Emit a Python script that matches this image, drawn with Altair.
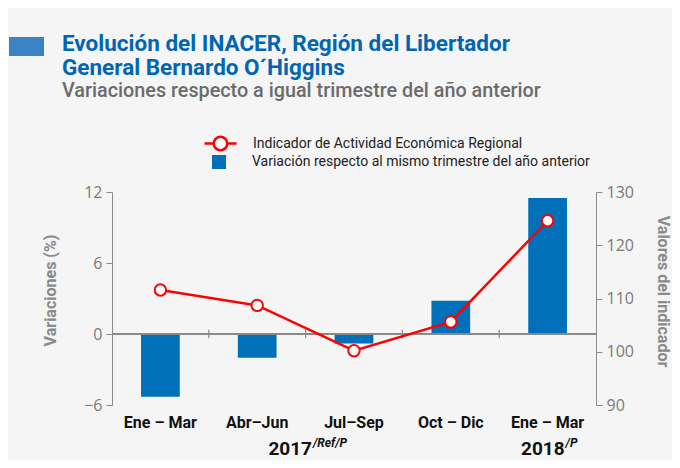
import altair as alt
import pandas as pd

# ---- data ----
keys = ["Ene – Mar|2017", "Abr–Jun|2017", "Jul–Sep|2017", "Oct – Dic|2017", "Ene – Mar|2018"]
variaciones = [-5.3, -2.0, -0.8, 2.8, 11.5]
indicador = [111.6, 108.7, 100.2, 105.6, 124.6]
serie_linea = "Indicador de Actividad Económica Regional"
serie_barra = "Variación respecto al mismo trimestre del año anterior"
years = ["2017", "2018"]
year_sups = ["/Ref/P", "/P"]
year_keys = ["Jul–Sep|2017", "Ene – Mar|2018"]
year_dx = [-42, 17]
title_lines = ["Evolución del INACER, Región del Libertador", "General Bernardo O´Higgins"]
subtitle = "Variaciones respecto a igual trimestre del año anterior"

FONT = "Roboto, 'DejaVu Sans Condensed', sans-serif"
TICKF = "'Open Sans', 'Noto Sans', sans-serif"
BLUE = "#0070bb"
RED = "#ff0000"
GREY = "#8a8a8a"

df = pd.DataFrame({"key": keys, "var": variaciones, "ind": indicador,
                   "sl": [serie_linea] * 5, "sb": [serie_barra] * 5})
bounds = pd.DataFrame({"key": keys[1:]})

W, H = 484, 213

xenc = alt.X("key:N", sort=keys,
             scale=alt.Scale(paddingInner=0, paddingOuter=0),
             axis=alt.Axis(title=None, domain=False, ticks=False,
                           labelExpr="split(datum.label, '|')[0]",
                           labelFont=FONT, labelFontSize=16, labelFontWeight="bold",
                           labelColor="#111111", labelPadding=9, labelAngle=0))

yleft = alt.Y("var:Q", scale=alt.Scale(domain=[-6, 12], nice=False, zero=False),
              axis=alt.Axis(title="Variaciones (%)", values=[-6, 0, 6, 12], grid=False,
                            domainColor=GREY, tickColor=GREY, tickSize=6,
                            labelFont=TICKF, labelFontSize=16, labelColor="#7a7a7a",
                            labelPadding=4, titleFont=FONT, titleFontSize=16,
                            titleFontWeight="bold", titleColor=GREY, titlePadding=25,
                            titleY=98))

bars = alt.Chart(df).mark_bar(width=alt.RelativeBandSize(0.4)).encode(
    x=xenc, y=yleft,
    fill=alt.Fill("sb:N", scale=alt.Scale(domain=[serie_barra], range=[BLUE]),
                  legend=alt.Legend(title=None, orient="none", legendX=100, legendY=-37,
                                    symbolType="square", symbolSize=196, symbolStrokeWidth=0,
                                    labelFont=FONT, labelFontSize=14, labelColor="#222222",
                                    labelOffset=26, padding=0, labelLimit=400)),
)

zero = alt.Chart(df).mark_rule(color=GREY, strokeWidth=1.5).encode(y=alt.datum(0))

bticks = alt.Chart(bounds).mark_rule(color=GREY, strokeWidth=1.2).encode(
    x=alt.X("key:N", sort=keys, bandPosition=0),
    y=alt.datum(-0.35), y2=alt.datum(0.35))

year_layers = []
for k, yv, sp, d in zip(year_keys, years, year_sups, year_dx):
    one = pd.DataFrame({"key": [k], "year": [yv], "sup": [sp]})
    year_layers.append(alt.Chart(one).mark_text(
        font=FONT, fontSize=19, fontWeight="bold", align="right",
        baseline="alphabetic", color="#111111", dx=d).encode(
        x=alt.X("key:N", sort=keys), y=alt.value(H + 50), text="year:N"))
    year_layers.append(alt.Chart(one).mark_text(
        font=FONT, fontSize=12, fontWeight="bold", fontStyle="italic",
        align="left", baseline="alphabetic", color="#111111", dx=d + 1).encode(
        x=alt.X("key:N", sort=keys), y=alt.value(H + 42), text="sup:N"))

deco = alt.Chart(df).mark_rect(color="#3a84c5").encode(
    x=alt.value(-103), x2=alt.value(-68), y=alt.value(-155), y2=alt.value(-136))

tdf = pd.DataFrame({"t": title_lines, "yy": [-141, -117]})
tmark = alt.Chart(tdf).mark_text(font=FONT, fontSize=22.5, fontWeight="bold", color="#0066b3",
                                 align="left", baseline="alphabetic").encode(
    x=alt.value(-50), y=alt.Y("yy:Q", scale=None), text="t:N")
sdf = pd.DataFrame({"t": [subtitle]})
smark = alt.Chart(sdf).mark_text(font=FONT, fontSize=19.8, fontWeight=500, color="#6b6b6b",
                                 align="left", baseline="alphabetic").encode(
    x=alt.value(-50), y=alt.value(-95), text="t:N")

left = alt.layer(bars, zero, bticks, *year_layers, deco, tmark, smark)

yright = alt.Y("ind:Q", scale=alt.Scale(domain=[90, 130], nice=False, zero=False),
               axis=alt.Axis(title="Valores del indicador", orient="right",
                             values=[90, 100, 110, 120, 130], grid=False,
                             domainColor=GREY, tickColor=GREY, tickSize=6,
                             labelFont=TICKF, labelFontSize=16, labelColor="#7a7a7a",
                             labelPadding=4, titleFont=FONT, titleFontSize=16,
                             titleFontWeight="bold", titleColor=GREY, titlePadding=21,
                             titleY=99))

LEG_PATH = ("M-1,0H-0.42M0.42,0H1"
            "M0.42,0A0.42,0.42 0 1,1 -0.42,0A0.42,0.42 0 1,1 0.42,0Z")

line = alt.Chart(df).mark_line(strokeWidth=2.5).encode(
    x=alt.X("key:N", sort=keys), y=yright,
    stroke=alt.Stroke("sl:N", scale=alt.Scale(domain=[serie_linea], range=[RED]),
                      legend=alt.Legend(title=None, orient="none", legendX=91, legendY=-66,
                                        symbolType=LEG_PATH, symbolSize=1024,
                                        symbolStrokeWidth=2.5, symbolFillColor="#ffffff",
                                        labelFont=FONT, labelFontSize=14,
                                        labelColor="#222222", labelOffset=15, padding=0,
                                        labelLimit=400)))
pts = alt.Chart(df).mark_point(filled=True, fill="white", stroke=RED, strokeWidth=2,
                               size=130, opacity=1).encode(
    x=alt.X("key:N", sort=keys), y=alt.Y("ind:Q"))

right = alt.layer(line, pts)

chart = alt.layer(left, right).resolve_scale(y="independent").properties(
    width=W, height=H,
    autosize=alt.AutoSizeParams(type="none"),
    padding={"left": 104, "top": 184, "right": 76, "bottom": 55},
    background="#f5f5f5",
).configure_view(stroke=None)

chart.save("out.html", embed_options={"renderer": "svg", "actions": False})
